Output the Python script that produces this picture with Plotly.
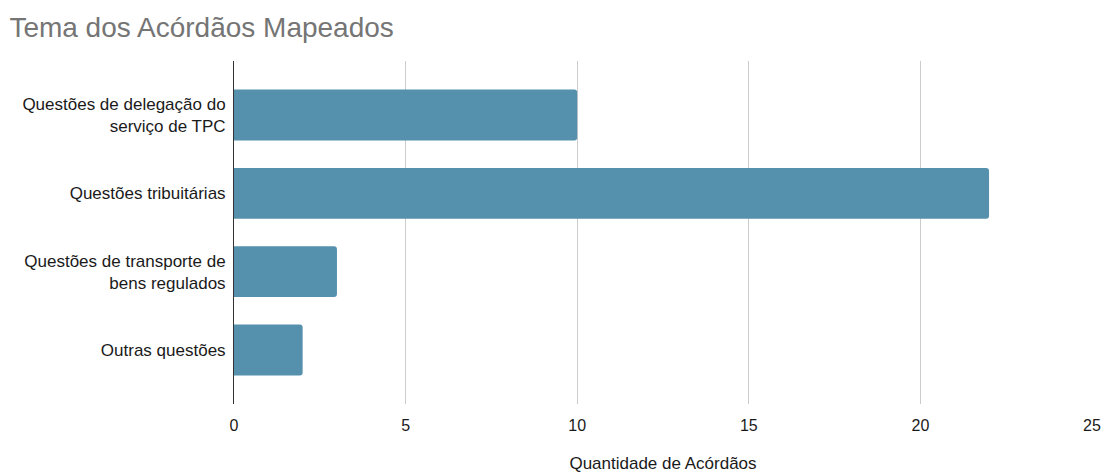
import plotly.graph_objects as go

categories = [
    "Questões de delegação do<br>serviço de TPC",
    "Questões tribuitárias",
    "Questões de transporte de<br>bens regulados",
    "Outras questões",
]
values = [10, 22, 3, 2]
x_ticks = [0, 5, 10, 15, 20, 25]

FONT = "Liberation Sans"

fig = go.Figure(
    go.Bar(
        x=values,
        y=categories,
        orientation="h",
        marker=dict(color="#5591ad", line=dict(width=0)),
        hoverinfo="x+y",
    )
)

fig.update_layout(
    width=1103,
    height=473,
    margin=dict(l=234, r=11, t=61, b=69, autoexpand=False),
    paper_bgcolor="white",
    plot_bgcolor="white",
    font=dict(family=FONT, size=17, color="#1a1a1a"),
    title=dict(
        text="Tema dos Acórdãos Mapeados",
        x=0.0085,
        xanchor="left",
        y=0.943,
        yanchor="middle",
        font=dict(family=FONT, size=28, color="#757575"),
    ),
    bargap=0.35,
    barcornerradius=3,
    showlegend=False,
)

fig.update_xaxes(
    range=[0, 25],
    tickvals=x_ticks,
    ticktext=[str(t) for t in x_ticks],
    tickfont=dict(family=FONT, size=16, color="#1a1a1a"),
    showgrid=True,
    gridcolor="#cccccc",
    gridwidth=1,
    zeroline=False,
    showline=False,
    ticks="",
    ticklabelstandoff=10,
    automargin=False,
    title=dict(text="Quantidade de Acórdãos", standoff=26, font=dict(family=FONT, size=17, color="#1a1a1a")),
    fixedrange=True,
)

fig.update_yaxes(
    autorange=False,
    range=[3.69, -0.69],
    categoryorder="array",
    categoryarray=categories,
    tickfont=dict(family=FONT, size=17, color="#1a1a1a"),
    showgrid=False,
    showline=True,
    linecolor="#333333",
    linewidth=1,
    ticks="",
    ticklabelstandoff=4,
    automargin=False,
    fixedrange=True,
)

fig.write_html("out.html")
